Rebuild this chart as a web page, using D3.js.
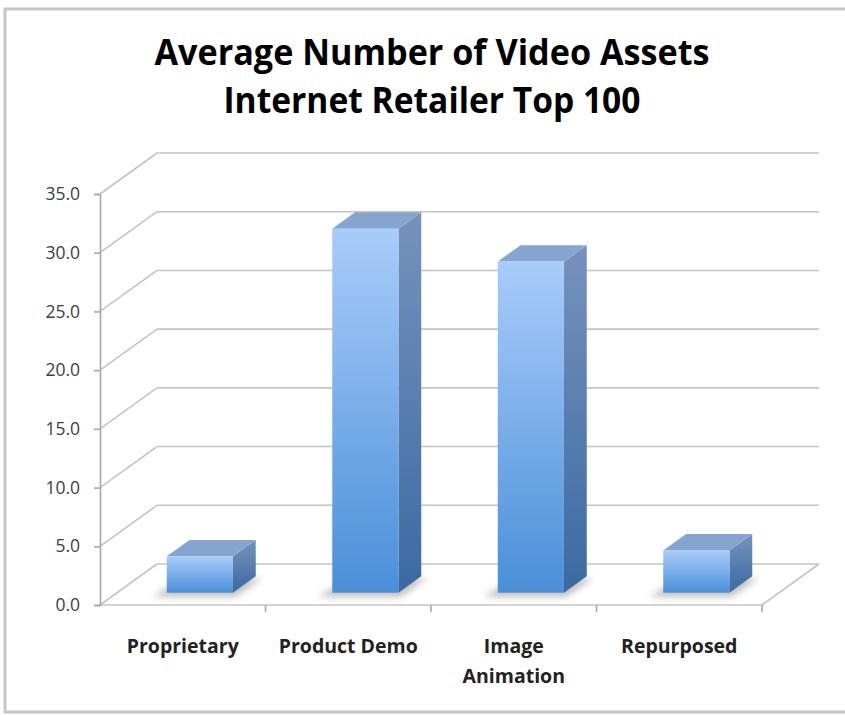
<!DOCTYPE html>
<html><head><meta charset="utf-8">
<script src="https://cdn.jsdelivr.net/npm/d3@7"></script>
<style>html,body{margin:0;padding:0;background:#fff;}svg{display:block;}</style>
</head><body>
<script>
const categories = ["Proprietary", "Product Demo", "Image Animation", "Repurposed"];
const labelLines = [["Proprietary"], ["Product Demo"], ["Image", "Animation"], ["Repurposed"]];
const values = [3.1, 31.0, 28.2, 3.6];
const yTicks = [0, 5, 10, 15, 20, 25, 30, 35];
const titleLines = ["Average Number of Video Assets", "Internet Retailer Top 100"];

const W = 845, H = 715;
const svg = d3.select("body").append("svg").attr("width", W).attr("height", H);
const defs = svg.append("defs");

// layout
const x0 = 100, x1 = 762, yBase = 605, yTop = 194;
const DX = 57, DY = -41; // depth offset
const y = d3.scaleLinear().domain([0, 35]).range([yBase, yTop]);
const x = d3.scaleBand().domain(categories).range([x0, x1]).paddingInner(0).paddingOuter(0);

// border
svg.append("rect").attr("x", 5).attr("y", 9).attr("width", W + 10).attr("height", 703)
  .attr("fill", "none").attr("stroke", "#c6c6c6").attr("stroke-width", 3);

// title
const title = svg.append("g");
titleLines.forEach((t, i) => {
  title.append("text").attr("x", 432).attr("y", 65 + i * 48)
    .attr("text-anchor", "middle")
    .attr("font-family", "'Open Sans', 'DejaVu Sans', sans-serif")
    .attr("font-weight", "bold").attr("font-size", 36).attr("fill", "#000")
    .attr("textLength", i === 0 ? 555 : 417).attr("lengthAdjust", "spacingAndGlyphs")
    .text(t);
});

const grid = "#c4c4c4";
// back wall gridlines + left wall diagonals
const gg = svg.append("g");
yTicks.forEach(v => {
  const yy = y(v);
  gg.append("line").attr("x1", x0).attr("y1", yy).attr("x2", x0 + DX).attr("y2", yy + DY)
    .attr("stroke", grid).attr("stroke-width", 1.6);
  gg.append("line").attr("x1", x0 + DX).attr("y1", yy + DY).attr("x2", x1 + DX).attr("y2", yy + DY)
    .attr("stroke", grid).attr("stroke-width", 1.6);
});
// floor front edge and right edge
gg.append("line").attr("x1", x0).attr("y1", yBase).attr("x2", x1).attr("y2", yBase)
  .attr("stroke", grid).attr("stroke-width", 1.6);
gg.append("line").attr("x1", x1).attr("y1", yBase).attr("x2", x1 + DX).attr("y2", yBase + DY)
  .attr("stroke", grid).attr("stroke-width", 1.6);

// y axis
const yAxis = d3.axisLeft(y).tickValues(yTicks).tickSize(6).tickPadding(14).tickFormat(d3.format(".1f"));
const ya = svg.append("g").attr("transform", `translate(${x0},0)`).call(yAxis);
ya.select(".domain").attr("stroke", "#a8a8a8").attr("stroke-width", 1.6);
ya.selectAll(".tick line").attr("stroke", "#a8a8a8").attr("stroke-width", 1.6);
ya.selectAll(".tick text").attr("font-family", "'Open Sans', 'DejaVu Sans', sans-serif")
  .attr("font-size", 17.5).attr("fill", "#404040");

// x ticks at category boundaries
const bounds = categories.map(c => x(c)).concat([x1]);
svg.append("g").selectAll("line").data(bounds.slice(1)).join("line")
  .attr("x1", d => d).attr("x2", d => d).attr("y1", yBase).attr("y2", yBase + 7)
  .attr("stroke", "#a8a8a8").attr("stroke-width", 1.6);

// x labels
const xl = svg.append("g");
categories.forEach((c, i) => {
  labelLines[i].forEach((ln, j) => {
    xl.append("text").attr("x", x(c) + x.bandwidth() / 2).attr("y", 653 + j * 30)
      .attr("text-anchor", "middle")
      .attr("font-family", "'Open Sans', 'DejaVu Sans', sans-serif")
      .attr("font-weight", "bold").attr("font-size", 19.5).attr("fill", "#222")
      .text(ln);
  });
});

// gradients
const gFront = defs.append("linearGradient").attr("id", "gFront").attr("x1", 0).attr("y1", 0).attr("x2", 0).attr("y2", 1);
gFront.append("stop").attr("offset", "0%").attr("stop-color", "#a9ccfa");
gFront.append("stop").attr("offset", "100%").attr("stop-color", "#4a8fd8");
const gSide = defs.append("linearGradient").attr("id", "gSide").attr("x1", 0).attr("y1", 0).attr("x2", 0).attr("y2", 1);
gSide.append("stop").attr("offset", "0%").attr("stop-color", "#7792bc");
gSide.append("stop").attr("offset", "100%").attr("stop-color", "#3a6aa3");
const blur = defs.append("filter").attr("id", "shadow").attr("x", "-50%").attr("y", "-50%").attr("width", "200%").attr("height", "200%");
blur.append("feGaussianBlur").attr("stdDeviation", 3.5);

// bars
const f0 = 0.3, f1 = 0.7; // depth span
const bw = x.bandwidth() * 0.4;
const bars = svg.append("g");
categories.forEach((c, i) => {
  const v = values[i];
  const bx = x(c) + (x.bandwidth() - bw) / 2 + DX * f0;
  const ob = DY * f0; // y offset at front of bar
  const yb = y(0) + ob, yt = y(v) + ob;
  const ddx = DX * (f1 - f0), ddy = DY * (f1 - f0);
  // shadow on floor
  bars.append("polygon")
    .attr("points", [[bx - 14, yb + 4], [bx + bw + 2, yb + 4], [bx + bw + ddx + 6, yb + ddy + 2], [bx + ddx - 6, yb + ddy + 2]].map(p => p.join(",")).join(" "))
    .attr("fill", "#8a8a8a").attr("opacity", 0.55).attr("filter", "url(#shadow)");
  // side
  bars.append("polygon")
    .attr("points", [[bx + bw, yt], [bx + bw + ddx, yt + ddy], [bx + bw + ddx, yb + ddy], [bx + bw, yb]].map(p => p.join(",")).join(" "))
    .attr("fill", "url(#gSide)");
  // top
  bars.append("polygon")
    .attr("points", [[bx, yt], [bx + ddx, yt + ddy], [bx + bw + ddx, yt + ddy], [bx + bw, yt]].map(p => p.join(",")).join(" "))
    .attr("fill", "#86a4d0");
  // front
  bars.append("rect").attr("x", bx).attr("y", yt).attr("width", bw).attr("height", yb - yt)
    .attr("fill", "url(#gFront)");
});
</script>
</body></html>
